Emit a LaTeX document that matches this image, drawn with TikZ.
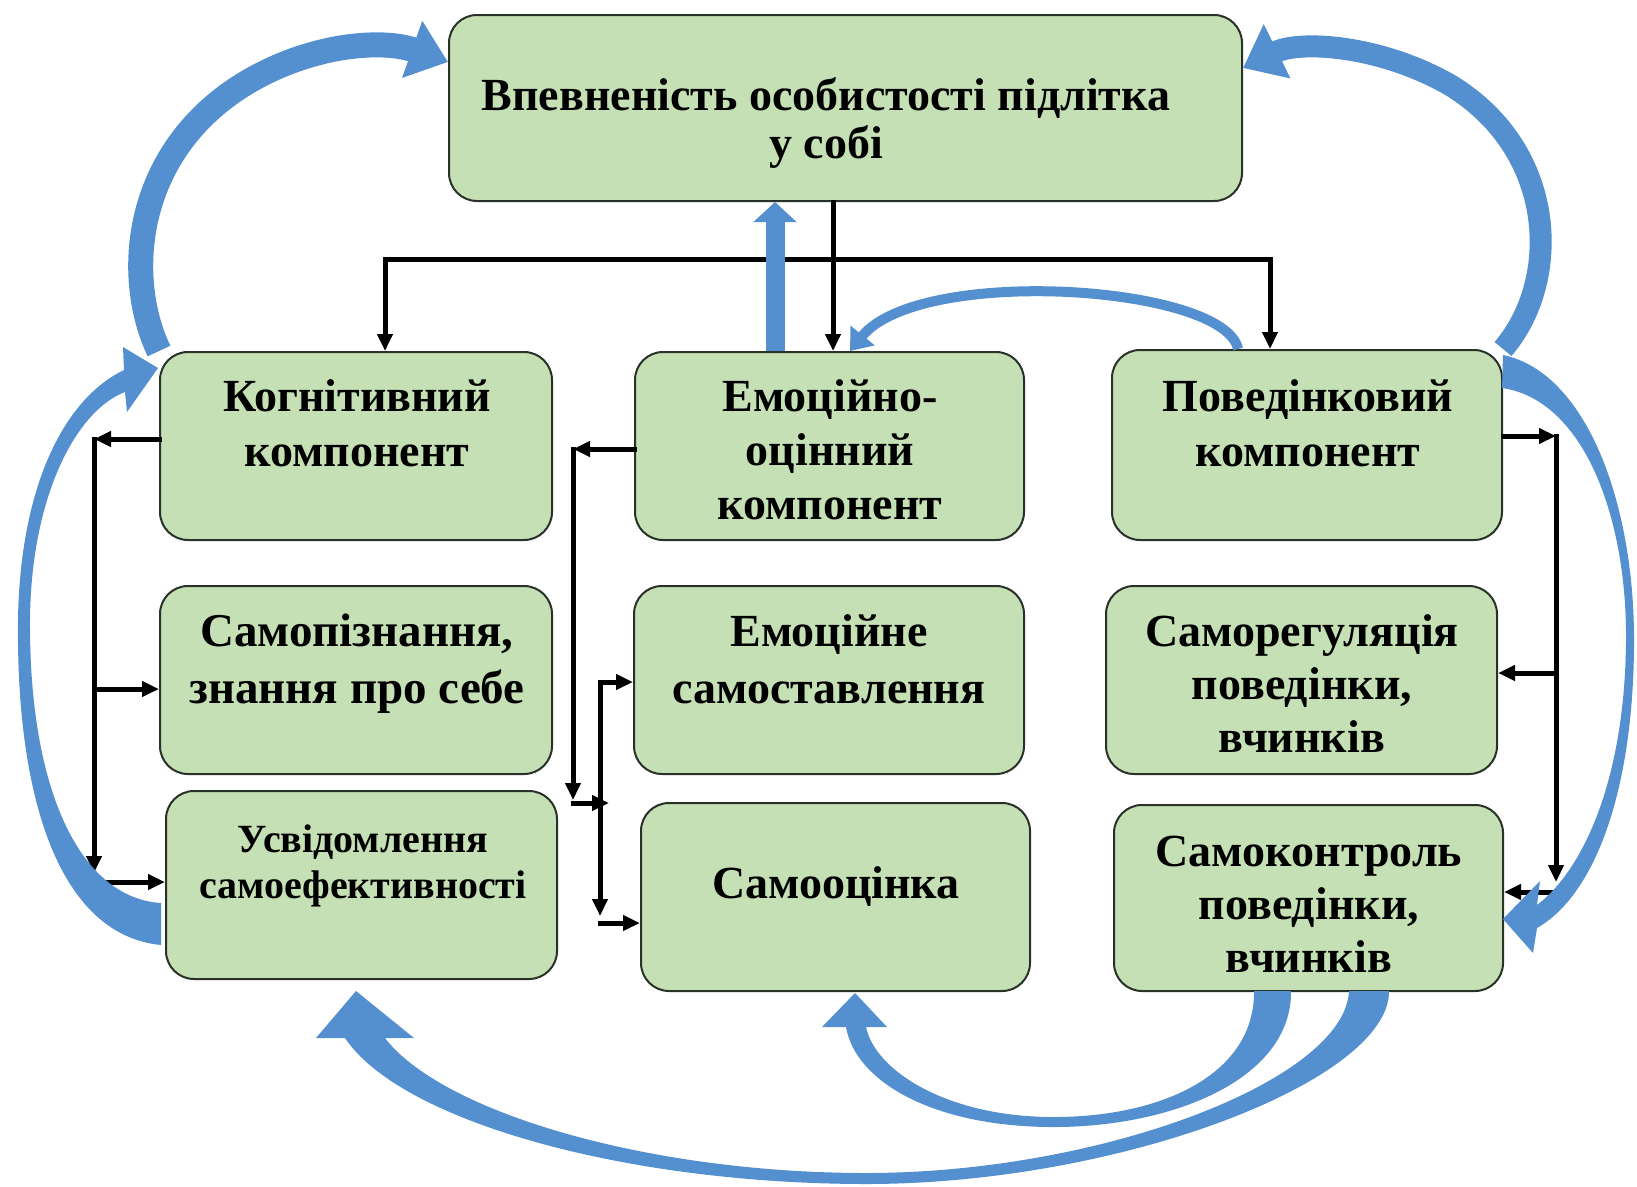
\documentclass[tikz,border=0pt]{standalone}
\usepackage{fontspec}
\setmainfont{Liberation Serif}
\usetikzlibrary{arrows.meta}
\definecolor{boxfill}{RGB}{197,224,180}
\definecolor{boxline}{RGB}{40,50,40}
\definecolor{arrowblue}{RGB}{84,144,208}
\begin{document}
\begin{tikzpicture}[x=1pt,y=-1pt,
  >={Triangle[length=17pt,width=15pt]},
  box/.style={draw=boxline, fill=boxfill, line width=2pt, rounded corners=28pt, inner sep=0pt},
  txt/.style={align=center, inner sep=0pt, anchor=north, font=\bfseries\fontsize{46}{55}\selectfont, execute at begin node=\strut},
  conn/.style={line width=5pt, line cap=rect},
  band/.style={draw=arrowblue},
  ribbon/.style={fill=arrowblue, draw=none}]
\fill[white] (0,0) rectangle (1637,1186);
\useasboundingbox (0,0) rectangle (1637,1186);

% boxes
\node[box, minimum width=793pt, minimum height=186pt] (top) at (845.5,108) {};
\node[box, minimum width=392pt, minimum height=188pt] (kog) at (356,446) {};
\node[box, minimum width=389pt, minimum height=188pt] (emo) at (829.5,446) {};
\node[box, minimum width=390pt, minimum height=190pt] (pov) at (1307,445) {};
\node[box, minimum width=392pt, minimum height=188pt] (samop) at (356,680) {};
\node[box, minimum width=390pt, minimum height=188pt] (emos) at (829,680) {};
\node[box, minimum width=391pt, minimum height=188pt] (samor) at (1301.5,680) {};
\node[box, minimum width=391pt, minimum height=188pt] (usv) at (361.5,885) {};
\node[box, minimum width=389pt, minimum height=188pt] (samoc) at (835.5,897) {};
\node[box, minimum width=389pt, minimum height=186pt] (samok) at (1308.5,898) {};

% texts
\node[txt, font=\bfseries\fontsize{46}{48}\selectfont] (topT) at (826,77) {Впевненість особистості підлітка\\у собі};
\node[txt] (kogT) at (357,379) {Когнітивний\\компонент};
\node[txt, font=\bfseries\fontsize{46}{54}\selectfont] (emoT) at (830,379.7) {Емоційно-\\оцінний\\компонент};
\node[txt] (povT) at (1308,379) {Поведінковий\\компонент};
\node[txt, font=\bfseries\fontsize{47}{57}\selectfont] (samopT) at (357,614) {Самопізнання,\\знання про себе};
\node[txt, font=\bfseries\fontsize{46}{57}\selectfont] (emosT) at (829,614) {Емоційне\\самоставлення};
\node[txt, font=\bfseries\fontsize{46}{53}\selectfont] (samorT) at (1302,614.5) {Саморегуляція\\поведінки,\\вчинків};
\node[txt, font=\bfseries\fontsize{40}{46}\selectfont] (usvT) at (363,824.5) {Усвідомлення\\самоефективності};
\node[txt] (samocT) at (836,860) {Самооцінка};
\node[txt, font=\bfseries\fontsize{46}{53}\selectfont] (samokT) at (1309,835.5) {Самоконтроль\\поведінки,\\вчинків};

% black connectors from the top box
\coordinate (hbL) at (385,259);
\coordinate (hbR) at (1270,259);
\coordinate (hbM) at (833,259);
\draw[conn,->] (top.south -| hbM) -- (emo.north -| hbM);
\draw[conn,<->] (kog.north -| hbL) -- (hbL) -- (hbR) -- (pov.north -| hbR);

% cognitive branch
\coordinate (kL) at (94,439);
\coordinate (kLb) at (94,873);
\coordinate (kA) at (94,689);
\coordinate (kB) at (94,882);
\draw[conn,->] (kog.west |- kL) -- (kL);
\draw[conn,->] (kL) -- (kLb);
\draw[conn,->] (kA) -- (samop.west |- kA);
\draw[conn,->] (kB) -- (usv.west |- kB);

% emotional branch
\coordinate (eL) at (573,449);
\coordinate (eLb) at (573,800);
\coordinate (eJ) at (573,803);
\coordinate (eJr) at (609,803);
\coordinate (eT) at (600,682);
\coordinate (eB) at (600,916);
\coordinate (eB2) at (600,923);
\draw[conn,->] (emo.west |- eL) -- (eL);
\draw[conn,->] (eL) -- (eLb);
\draw[conn,->] (eJ) -- (eJr);
\draw[conn,<->] (emos.west |- eT) -- (eT) -- (eB);
\draw[conn,->] (eB2) -- (samoc.west |- eB2);

% behavioural branch
\coordinate (pR) at (1556,436);
\coordinate (pRb) at (1556,882);
\coordinate (pA) at (1556,673);
\coordinate (pB) at (1556,892);
\draw[conn,->] (pov.east |- pR) -- (pR);
\draw[conn,->] (pR) -- (pRb);
\draw[conn,->] (pA) -- (samor.east |- pA);
\draw[conn,->] (pB) -- (samok.east |- pB);

% blue arrows
\coordinate (bv) at (775,0);
\draw[band, line width=19pt, -{Triangle[length=20pt,width=42pt]}] (emo.north -| bv) -- (top.south -| bv);

\draw[band, line width=25pt, -{Triangle[length=38pt,width=58pt]}]
  (kog.north west) .. controls (125,280) and (132,160) .. (235,90)
  .. controls (302,45) and (380,38) .. (top.west |- 0,62);

\draw[band, line width=22pt, -{Triangle[length=38pt,width=58pt]}]
  (pov.north east) .. controls (1562,280) and (1557,150) .. (1450,85)
  .. controls (1380,45) and (1300,40) .. (top.east |- 0,68);

\draw[band, line width=10pt, -{Triangle[length=20pt,width=30pt]}]
  (pov.north -| 1238,0) .. controls (1225,285) and (920,265) .. (emo.north -| 850,0);

% left lower ribbon arrow
\fill[ribbon] (161,945) .. controls (60,935) and (16,800) .. (18,620)
  .. controls (20,490) and (62,400) .. (124,370) -- (123,347) -- (158,368) -- (127,412) -- (125,392)
  .. controls (77,410) and (31,495) .. (30,620) .. controls (29,790) and (80,898) .. (161,903) -- cycle;

% right lower ribbon arrow
\fill[ribbon] (1503,355) .. controls (1585,372) and (1634,500) .. (1634,640)
  .. controls (1634,790) and (1595,895) .. (1537,928) -- (1533,953) -- (1503,919) -- (1540,881) -- (1537,905)
  .. controls (1583,870) and (1625,780) .. (1626,640) .. controls (1627,520) and (1585,400) .. (1502,388) -- cycle;

% bottom ribbon arrow to Самооцінка
\fill[ribbon] (1291,991) .. controls (1292,1080) and (1170,1128) .. (1050,1127)
  .. controls (930,1126) and (855,1080) .. (846,1027) -- (822,1027) -- (855,993) -- (887,1027) -- (866,1027)
  .. controls (875,1070) and (945,1116) .. (1050,1117) .. controls (1160,1118) and (1255,1075) .. (1254,991) -- cycle;

% bottom ribbon arrow to Усвідомлення
\fill[ribbon] (1389,991) .. controls (1390,1080) and (1120,1185) .. (862,1184)
  .. controls (620,1183) and (400,1120) .. (345,1038) -- (316,1038) -- (356,991) -- (414,1038) -- (385,1038)
  .. controls (440,1110) and (640,1172) .. (862,1173) .. controls (1100,1174) and (1345,1080) .. (1349,991) -- cycle;
\end{tikzpicture}
\end{document}
